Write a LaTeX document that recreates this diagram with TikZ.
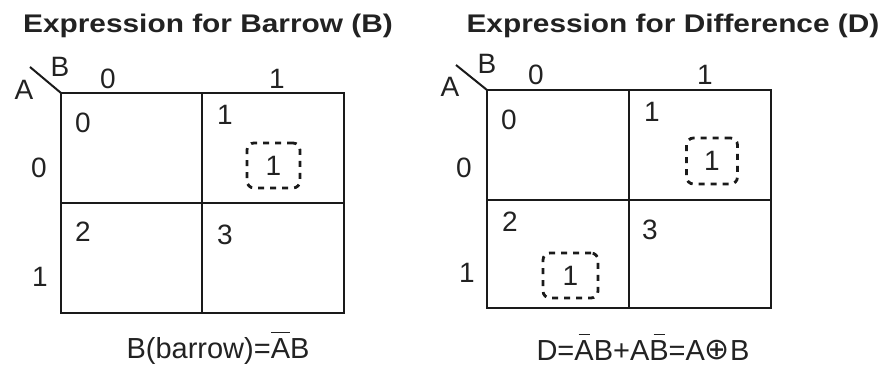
\documentclass[tikz,border=0pt]{standalone}
\usepackage{fontspec}
\setmainfont{Liberation Sans}
\newfontfamily\headfont[FakeStretch=1.17]{Liberation Sans}
\newfontfamily\opfont{DejaVu Sans}
\usepackage{tikz}
\usetikzlibrary{positioning}
\usepackage{xcolor}
\definecolor{ink}{HTML}{1A1A1A}
\definecolor{txt}{HTML}{222222}

% bar over a letter: #1 = bar length, #2 = letter
\newcommand{\negbar}[2]{\ooalign{#2\cr\hidewidth\rule[0.86em]{#1}{1.4pt}\hidewidth\cr}}

\begin{document}
\begin{tikzpicture}[x=1pt,y=-1pt,
  heading/.style={font=\headfont\bfseries\fontsize{25.5}{30}\selectfont, text=txt, anchor=base},
  lbl/.style={font=\fontsize{28}{32}\selectfont, text=txt, anchor=base, inner sep=0pt},
  expr/.style={font=\fontsize{29}{34}\selectfont, text=txt, anchor=base, inner sep=0pt},
  grid/.style={draw=ink, line width=2.6pt},
  grp/.style={draw=ink, line width=2.8pt, dash pattern=on 6pt off 6pt, rounded corners=7pt,
    inner sep=0pt, font=\fontsize{28}{32}\selectfont, text=txt}]
  \useasboundingbox (0,0) rectangle (892,366);

  % Titles
  \node[heading] (titleB) at (208,33) {Expression for Barrow (B)};
  \node[heading] (titleD) at (673,33) {Expression for Difference (D)};

  % Borrow map
  \coordinate (cornerB) at (61,93);
  \coordinate (slashB) at (30,67);
  \draw[ink, line width=2pt] (slashB) -- (cornerB);
  \draw[grid] (61,93) rectangle (344,313);
  \draw[grid] (202,93) -- (202,313);
  \draw[grid] (61,203) -- (344,203);
  \node[lbl] (varAB) at (24,100) {A};
  \node[lbl] (varBB) at (60,77) {B};
  \node[lbl] (colB0) at (108,89) {0};
  \node[lbl] (colB1) at (277,89) {1};
  \node[lbl] (rowB0) at (39,178) {0};
  \node[lbl] (rowB1) at (40,287) {1};
  \node[lbl] (mB0) at (83,133) {0};
  \node[lbl] (mB1) at (225,125) {1};
  \node[lbl] (mB2) at (83,242) {2};
  \node[lbl] (mB3) at (225,245) {3};
  \node[grp, minimum width=53pt, minimum height=45pt] (grpB) at (273.5,165.5) {1};
  \node[expr] (exprB) at (218,358) {B(barrow)=\negbar{19pt}{A}B};

  % Difference map
  \coordinate (cornerD) at (487,90);
  \coordinate (slashD) at (456,65);
  \draw[ink, line width=2pt] (slashD) -- (cornerD);
  \draw[grid] (487,90) rectangle (771,308);
  \draw[grid] (629,90) -- (629,308);
  \draw[grid] (487,200) -- (771,200);
  \node[lbl] (varAD) at (450,97) {A};
  \node[lbl] (varBD) at (487,74) {B};
  \node[lbl] (colD0) at (536,85) {0};
  \node[lbl] (colD1) at (705,85) {1};
  \node[lbl] (rowD0) at (464,178) {0};
  \node[lbl] (rowD1) at (467,283) {1};
  \node[lbl] (mD0) at (509,130) {0};
  \node[lbl] (mD1) at (652,122) {1};
  \node[lbl] (mD2) at (510,232) {2};
  \node[lbl] (mD3) at (650,240) {3};
  \node[grp, minimum width=51pt, minimum height=46pt] (grpD1) at (712,161) {1};
  \node[grp, minimum width=55pt, minimum height=45pt] (grpD2) at (570.5,275.5) {1};
  \node[expr] (exprD) at (643,360)
    {D=\negbar{11pt}{A}B+A\negbar{11pt}{B}=A\raisebox{1pt}{\opfont\fontsize{30}{34}\selectfont ⊕}B};
\end{tikzpicture}
\end{document}
